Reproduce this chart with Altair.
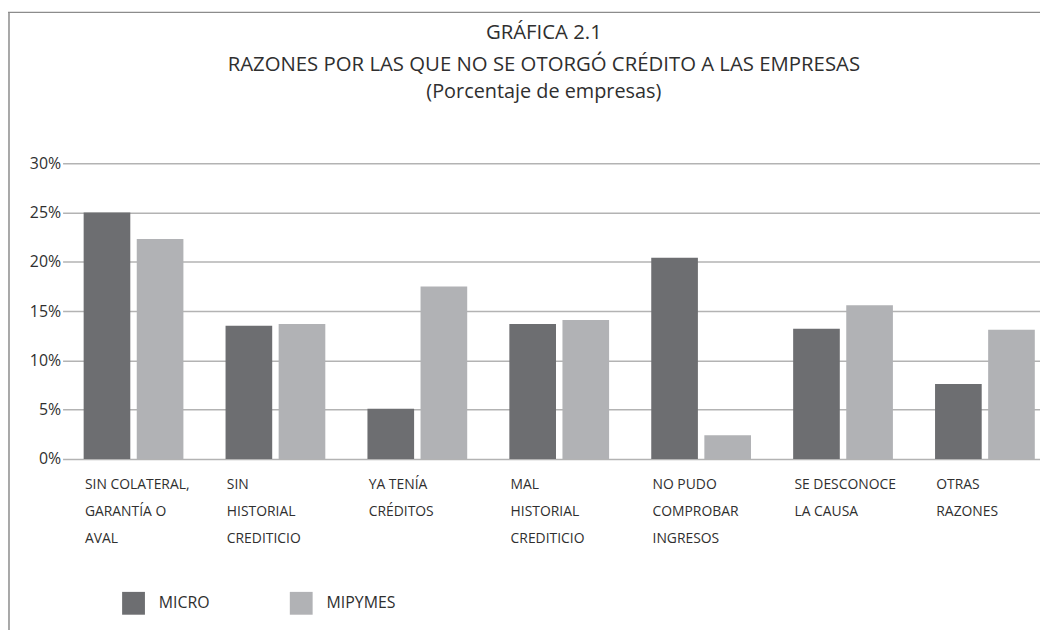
import altair as alt
import pandas as pd

categories = [
    "SIN COLATERAL,|GARANTÍA O|AVAL",
    "SIN|HISTORIAL|CREDITICIO",
    "YA TENÍA|CRÉDITOS",
    "MAL|HISTORIAL|CREDITICIO",
    "NO PUDO|COMPROBAR|INGRESOS",
    "SE DESCONOCE|LA CAUSA",
    "OTRAS|RAZONES",
]
series = ["MICRO", "MIPYMES"]
micro = [25.0, 13.5, 5.1, 13.7, 20.4, 13.2, 7.6]
mipymes = [22.3, 13.7, 17.5, 14.1, 2.4, 15.6, 13.1]
y_ticks = [0, 5, 10, 15, 20, 25, 30]
colors = ["#6d6e71", "#b1b2b5"]

rows = []
for c, a, b in zip(categories, micro, mipymes):
    rows.append({"razon": c, "tipo": series[0], "valor": a})
    rows.append({"razon": c, "tipo": series[1], "valor": b})
df = pd.DataFrame(rows)

FONT = "Open Sans"
TXT = "#2f2f2f"

bars = alt.Chart(df).mark_bar().encode(
    x=alt.X(
        "razon:N",
        sort=categories,
        title=None,
        scale=alt.Scale(range=[0, 1001], paddingInner=0.297, paddingOuter=0.1485),
        axis=alt.Axis(
            labelExpr="split(datum.label, '|')",
            labelAngle=0,
            labelAlign="left",
            labelBaseline="top",
            labelOffset=-49,
            labelPadding=19,
            labelLineHeight=27,
            labelFontSize=14,
            labelFont=FONT,
            labelColor=TXT,
            domain=False,
            ticks=False,
            grid=False,
            labelLimit=200,
        ),
    ),
    xOffset=alt.XOffset(
        "tipo:N", sort=series, scale=alt.Scale(paddingInner=0.1214, paddingOuter=0)
    ),
    y=alt.Y(
        "valor:Q",
        title=None,
        scale=alt.Scale(domain=[0, 30], nice=False),
        axis=alt.Axis(
            values=y_ticks,
            labelExpr="datum.value + '%'",
            labelFontSize=16,
            labelFont=FONT,
            labelColor=TXT,
            labelPadding=2,
            domain=False,
            ticks=False,
            grid=True,
            gridColor="#b3b3b3",
            gridWidth=1.5,
        ),
    ),
    color=alt.Color(
        "tipo:N",
        sort=series,
        scale=alt.Scale(domain=series, range=colors),
        legend=alt.Legend(
            title=None,
            orient="none",
            legendX=60,
            legendY=432,
            direction="horizontal",
            symbolType="square",
            symbolSize=529,
            symbolStrokeWidth=0,
            labelFontSize=16,
            labelFont=FONT,
            labelColor=TXT,
            labelOffset=14,
            columnPadding=80,
            padding=0,
        ),
    ),
)

frame_data = alt.Data(values=[{"k": 1}])
frame_left = alt.Chart(frame_data).mark_rule(color="#8c8c8c", strokeWidth=1.5).encode(
    x=alt.value(-54), y=alt.value(-152), y2=alt.value(480)
)
frame_top = alt.Chart(frame_data).mark_rule(color="#8c8c8c", strokeWidth=1.5).encode(
    x=alt.value(-55), x2=alt.value(990), y=alt.value(-152)
)

chart = alt.layer(bars, frame_left, frame_top).properties(
    width=985,
    height=298,
    autosize=alt.AutoSizeParams(type="none"),
    padding={"left": 55, "top": 154, "right": 0, "bottom": 170},
    title=alt.TitleParams(
        text=["GRÁFICA 2.1", "RAZONES POR LAS QUE NO SE OTORGÓ CRÉDITO A LAS EMPRESAS"],
        subtitle="(Porcentaje de empresas)",
        fontSize=20.5,
        subtitleFontSize=20,
        font=FONT,
        subtitleFont=FONT,
        fontWeight="normal",
        color=TXT,
        subtitleColor=TXT,
        lineHeight=31.5,
        subtitleLineHeight=31.5,
        subtitlePadding=7,
        anchor="middle",
        offset=-91,
        dx=-7.5,
    ),
).configure_view(stroke=None)

chart.save("out.html", embed_options={"renderer": "svg", "actions": False})
